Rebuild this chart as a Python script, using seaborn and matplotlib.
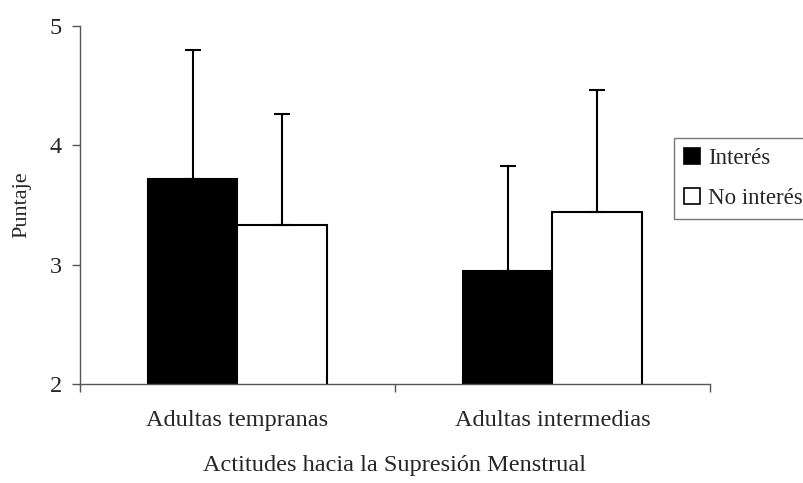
import numpy as np
import pandas as pd
import seaborn as sns
import matplotlib.pyplot as plt

# valores
grupos = ["Adultas tempranas", "Adultas intermedias"]
condiciones = ["Interés", "No interés"]
media_interes = [3.72, 2.95]
media_no_interes = [3.33, 3.44]
tope_interes = [4.80, 3.83]
tope_no_interes = [4.26, 4.46]

df = pd.DataFrame({
    "grupo": grupos * 2,
    "condicion": [condiciones[0]] * 2 + [condiciones[1]] * 2,
    "media": media_interes + media_no_interes,
    "tope": tope_interes + tope_no_interes,
})

sns.set_style("white")
plt.rcParams["font.family"] = ["Liberation Serif", "DejaVu Serif"]

fig = plt.figure(figsize=(8.04, 4.83), dpi=100)
ax = fig.add_axes([80 / 804, 1 - 384 / 483, 630 / 804, 358 / 483])

sns.barplot(data=df, x="grupo", y="media", hue="condicion",
            hue_order=condiciones, order=grupos,
            palette={"Interés": "black", "No interés": "white"},
            edgecolor="black", linewidth=1.5, width=0.57, gap=0,
            errorbar=None, ax=ax)

# barras de error solo hacia arriba
for cont, cond in zip(ax.containers, condiciones):
    sub = df[df.condicion == cond].set_index("grupo").loc[grupos]
    xs = [p.get_x() + p.get_width() / 2 for p in cont.patches]
    err = sub["tope"].values - sub["media"].values
    ax.errorbar(xs, sub["media"].values, yerr=[np.zeros(len(err)), err],
                fmt="none", ecolor="black", elinewidth=1.5, capsize=5.8,
                capthick=1.5, zorder=1)

ax.set_ylim(2, 5)
ax.set_xlim(-0.5, 1.5)
ax.set_yticks([2, 3, 4, 5])
ax.set_xticks([-0.5, 0.5, 1.5], minor=True)
ax.tick_params(axis="x", which="both", bottom=True)
ax.tick_params(axis="x", which="major", length=0, pad=19, labelsize=17.5)
ax.tick_params(axis="x", which="minor", length=6, width=1, color="#555555", direction="out")
ax.tick_params(axis="y", left=True, length=6, width=1, color="#555555",
               direction="out", labelsize=17.5, pad=7)

for s in ["top", "right"]:
    ax.spines[s].set_visible(False)
for s in ["left", "bottom"]:
    ax.spines[s].set_color("#555555")
    ax.spines[s].set_linewidth(1)

ax.set_xlabel("Actitudes hacia la Supresión Menstrual", fontsize=17.5, labelpad=17)
ax.set_ylabel("Puntaje", fontsize=16, labelpad=13)

leg = ax.legend(loc="upper left", bbox_to_anchor=(674 / 804, 1 - 138 / 483),
                bbox_transform=fig.transFigure, borderaxespad=0,
                fontsize=16.5, frameon=True, fancybox=False,
                handlelength=0.7, handleheight=0.7, handletextpad=0.35,
                labelspacing=0.8, borderpad=0.45)
leg.get_frame().set_edgecolor("#555555")
leg.get_frame().set_linewidth(1)
for h in leg.legend_handles:
    h.set_linewidth(1.2)

fig.savefig("out.png", dpi=100)
